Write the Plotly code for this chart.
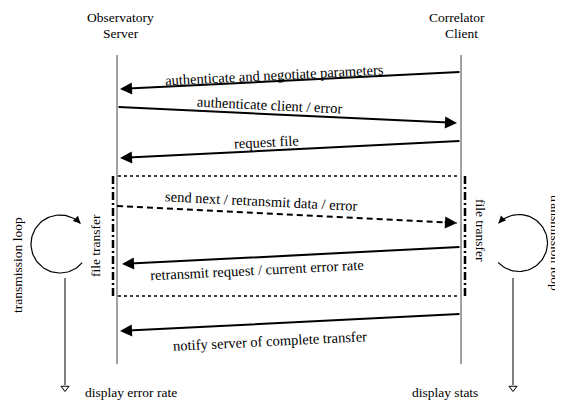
import math
import numpy as np
import plotly.graph_objects as go

# participants and their lifelines
participants = [["Observatory", "Server"], ["Correlator", "Client"]]
header_x = [[120, 121], [457, 461]]
header_y = [17, 33]
lifeline_x = [117, 461]
lifeline_top, lifeline_bottom = 55, 364

# messages exchanged (tail -> head)
msg_labels = ["authenticate and negotiate parameters", "authenticate client / error", "request file",
              "send next / retransmit data / error", "retransmit request / current error rate",
              "notify server of complete transfer"]
msg_x0 = [461, 117, 461, 117, 461, 461]
msg_x1 = [120, 457, 120, 457, 122, 120]
msg_y0 = [72, 107, 141, 206, 247, 314]
msg_y1 = [89, 123, 158, 223, 264, 331]
msg_dashed = [False, False, False, True, False, False]
label_x = [274, 269, 266, 261, 257, 270]
label_y = [75, 105, 142, 201, 270, 341]

# file transfer block
block_y = [176, 296]
block_side_x = [113, 465]

# transmission loops: centre, radius, start / end angle (deg)
loop_cx = [60, 519]
loop_cy = [244, 243]
loop_r = [29, 28.5]
loop_a0 = [-40, 223]
loop_a1 = [-315, 496]
loop_out_x = [65, 513]
loop_out_y = [278, 388]
side_text_x = [17, 556]
side_text_y = [265, 243]
side_angle = [-90, 90]
ft_x = [95, 481]
ft_y = [246, 230]
out_labels = ["display error rate", "display stats"]
out_label_x = [131, 445]
out_label_y = 392

FAMILY = "Liberation Serif, Times New Roman, serif"
FONT = dict(family=FAMILY, size=13.5, color="black")
MSG_FONT = dict(family=FAMILY, size=14.5, color="black")

# the page body has an 8px margin: shift the data window so page pixels match
OFF = 8

fig = go.Figure()
ann = []

for names, hx, x in zip(participants, header_x, lifeline_x):
    fig.add_shape(type="line", x0=x, x1=x, y0=lifeline_top, y1=lifeline_bottom,
                  line=dict(color="#444", width=1))
    for name, nx, ny in zip(names, hx, header_y):
        ann.append(dict(x=nx, y=ny, text=name, showarrow=False, font=FONT))

for lab, x0, x1, y0, y1, dashed, lx, ly in zip(msg_labels, msg_x0, msg_x1, msg_y0, msg_y1,
                                              msg_dashed, label_x, label_y):
    ang = math.degrees(math.atan2(y1 - y0, x1 - x0))
    if ang > 90:
        ang -= 180
    elif ang < -90:
        ang += 180
    if dashed:
        fig.add_shape(type="line", x0=x0, y0=y0, x1=x1, y1=y1,
                      line=dict(color="black", width=2, dash="6px,4px"))
        L = math.hypot(x1 - x0, y1 - y0)
        tx, ty = x1 - (x1 - x0) / L * 14, y1 - (y1 - y0) / L * 14
        ann.append(dict(x=x1, y=y1, ax=tx, ay=ty, axref="x", ayref="y", xref="x", yref="y",
                        showarrow=True, arrowhead=2, arrowsize=1.2, arrowwidth=2,
                        arrowcolor="black", text=""))
    else:
        ann.append(dict(x=x1, y=y1, ax=x0, ay=y0, axref="x", ayref="y", xref="x", yref="y",
                        showarrow=True, arrowhead=2, arrowsize=1.2, arrowwidth=2,
                        arrowcolor="black", text=""))
    ann.append(dict(x=lx, y=ly, text=lab, showarrow=False, textangle=ang, font=MSG_FONT))

for y in block_y:
    fig.add_shape(type="line", x0=118, x1=460, y0=y, y1=y,
                  line=dict(color="black", width=1.5, dash="dot"))
for x in block_side_x:
    fig.add_shape(type="line", x0=x, x1=x, y0=block_y[0], y1=block_y[1],
                  line=dict(color="black", width=2.5, dash="8px,3px,2px,3px"))

for i in range(2):
    th = np.radians(np.linspace(loop_a0[i], loop_a1[i], 80))
    fig.add_trace(go.Scatter(x=loop_cx[i] + loop_r[i] * np.cos(th),
                             y=loop_cy[i] - loop_r[i] * np.sin(th),
                             mode="lines", line=dict(color="black", width=1.2),
                             hoverinfo="skip"))
    t1 = th[-1]
    ex, ey = loop_cx[i] + loop_r[i] * np.cos(t1), loop_cy[i] - loop_r[i] * np.sin(t1)
    s = 1 if loop_a1[i] > loop_a0[i] else -1
    dx, dy = -s * np.sin(t1), -s * np.cos(t1)
    ann.append(dict(x=ex, y=ey, ax=ex - dx * 8, ay=ey - dy * 8, axref="x", ayref="y",
                    xref="x", yref="y", showarrow=True, arrowhead=2, arrowsize=1.2,
                    arrowwidth=1.2, arrowcolor="black", text=""))
    fig.add_shape(type="line", x0=loop_out_x[i], x1=loop_out_x[i], y0=loop_out_y[0],
                  y1=loop_out_y[1] - 3, line=dict(color="black", width=1))
    fig.add_trace(go.Scatter(x=[loop_out_x[i]], y=[loop_out_y[1]], mode="markers",
                             marker=dict(symbol="triangle-down-open", size=7,
                                         color="black", line=dict(width=1)),
                             hoverinfo="skip"))
    ann.append(dict(x=side_text_x[i], y=side_text_y[i], text="transmission loop",
                    showarrow=False, textangle=side_angle[i], font=FONT))
    ann.append(dict(x=ft_x[i], y=ft_y[i], text="file transfer",
                    showarrow=False, textangle=side_angle[i], font=FONT))
    ann.append(dict(x=out_label_x[i], y=out_label_y, text=out_labels[i],
                    showarrow=False, font=FONT))

fig.update_layout(width=563 - OFF, height=401 - OFF, margin=dict(l=0, r=0, t=0, b=0),
                  plot_bgcolor="white", paper_bgcolor="white", showlegend=False,
                  xaxis=dict(range=[OFF, 563], visible=False, fixedrange=True),
                  yaxis=dict(range=[401, OFF], visible=False, fixedrange=True),
                  annotations=ann)
fig.write_html("out.html")
